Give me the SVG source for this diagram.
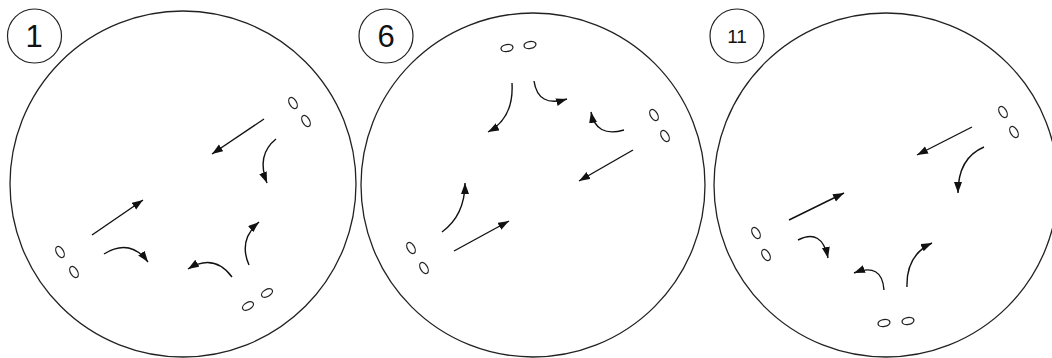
<svg xmlns="http://www.w3.org/2000/svg" width="1052" height="358" viewBox="0 0 1052 358">
<style>
.big{fill:none;stroke:#222;stroke-width:1.3}
.lab{fill:#fff;stroke:#222;stroke-width:1.2}
.t{font-family:"Liberation Sans",Arial,sans-serif;fill:#111;text-anchor:middle}
.cell{fill:#fff;stroke:#222;stroke-width:1.3}
.arr{fill:none;stroke:#111;stroke-width:1.4;marker-end:url(#ah)}
</style>
<defs>
<marker id="ah" markerUnits="userSpaceOnUse" markerWidth="13" markerHeight="10" refX="11" refY="4" orient="auto">
<path d="M0,0 L11,4 L0,8 Z" fill="#111"/>
</marker>
</defs>
<rect width="1052" height="358" fill="#fff"/>
<g id="panel1">
<circle class="big" cx="183" cy="184" r="173"/>
<circle class="lab" cx="34.5" cy="36" r="27"/>
<text class="t" x="34" y="47" font-size="31">1</text>
<ellipse class="cell" cx="293" cy="103" rx="3.5" ry="6" transform="rotate(-30 293 103)"/>
<ellipse class="cell" cx="306" cy="121" rx="3.5" ry="6" transform="rotate(-30 306 121)"/>
<ellipse class="cell" cx="60" cy="252" rx="3.5" ry="6" transform="rotate(-30 60 252)"/>
<ellipse class="cell" cx="74" cy="272" rx="3.5" ry="6" transform="rotate(-30 74 272)"/>
<ellipse class="cell" cx="248" cy="306" rx="6" ry="3.5" transform="rotate(-30 248 306)"/>
<ellipse class="cell" cx="267" cy="293" rx="6" ry="3.5" transform="rotate(-30 267 293)"/>
</g>
<g id="panel6">
<circle class="big" cx="533" cy="185" r="172"/>
<circle class="lab" cx="386" cy="36" r="27"/>
<text class="t" x="386" y="47" font-size="31">6</text>
<ellipse class="cell" cx="507" cy="48" rx="6" ry="3.5" transform="rotate(-10 507 48)"/>
<ellipse class="cell" cx="530" cy="45" rx="6" ry="3.5" transform="rotate(-10 530 45)"/>
<ellipse class="cell" cx="654" cy="115" rx="3.5" ry="6" transform="rotate(-30 654 115)"/>
<ellipse class="cell" cx="665" cy="136" rx="3.5" ry="6" transform="rotate(-30 665 136)"/>
<ellipse class="cell" cx="411" cy="248" rx="3.5" ry="6" transform="rotate(-30 411 248)"/>
<ellipse class="cell" cx="424" cy="268" rx="3.5" ry="6" transform="rotate(-30 424 268)"/>
</g>
<g id="panel11">
<circle class="big" cx="886" cy="185" r="172"/>
<circle class="lab" cx="737" cy="36" r="27"/>
<text class="t" x="737" y="43" font-size="19">11</text>
<ellipse class="cell" cx="1003" cy="112" rx="3.5" ry="6" transform="rotate(-30 1003 112)"/>
<ellipse class="cell" cx="1014" cy="132" rx="3.5" ry="6" transform="rotate(-30 1014 132)"/>
<ellipse class="cell" cx="756" cy="233" rx="3.5" ry="6" transform="rotate(-30 756 233)"/>
<ellipse class="cell" cx="766" cy="255" rx="3.5" ry="6" transform="rotate(-30 766 255)"/>
<ellipse class="cell" cx="884" cy="323" rx="6" ry="3.5" transform="rotate(-10 884 323)"/>
<ellipse class="cell" cx="908" cy="321" rx="6" ry="3.5" transform="rotate(-10 908 321)"/>
</g>
<g id="connectors">
<path class="arr" d="M264,119 L212,154"/>
<path class="arr" d="M92,235 L143,200"/>
<path class="arr" d="M276,139 Q256,155 267,183"/>
<path class="arr" d="M104,254 Q130,238 148,262"/>
<path class="arr" d="M232,277 Q214,253 188,269"/>
<path class="arr" d="M249,265 Q238,240 259,222"/>
<path class="arr" d="M633,150 L579,181"/>
<path class="arr" d="M454,251 L509,221"/>
<path class="arr" d="M512,83 Q514,118 488,132"/>
<path class="arr" d="M534,81 Q538,108 567,99"/>
<path class="arr" d="M624,130 Q596,138 591,112"/>
<path class="arr" d="M442,232 Q465,215 465,183"/>
<path class="arr" d="M972,127 L917,155"/>
<path class="arr" d="M789,220 L844,193"/>
<path class="arr" d="M984,147 Q958,158 958,193"/>
<path class="arr" d="M798,240 Q822,228 828,258"/>
<path class="arr" d="M884,290 Q882,262 854,273"/>
<path class="arr" d="M907,287 Q906,255 932,243"/>
</g>
</svg>
